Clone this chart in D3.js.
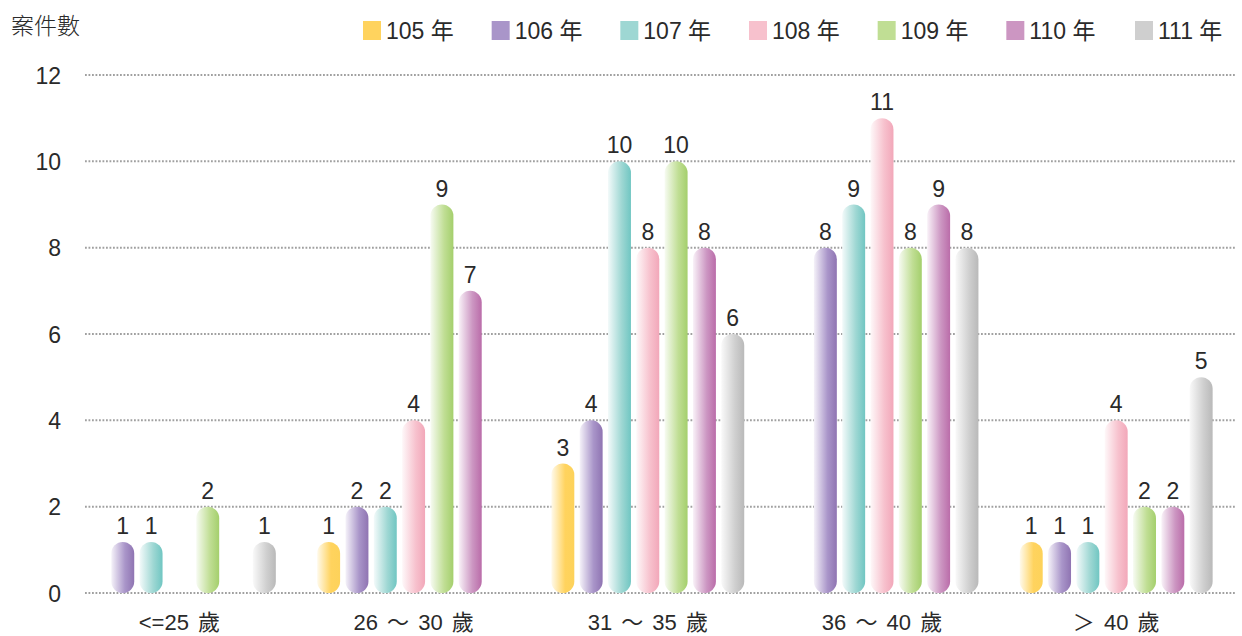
<!DOCTYPE html>
<html><head><meta charset="utf-8">
<script src="https://cdn.jsdelivr.net/npm/d3@7"></script>
<style>
html,body{margin:0;padding:0;background:#fff;}
text{font-family:"Liberation Sans","Noto Sans CJK TC",sans-serif;fill:#2a2a2a;}
</style></head>
<body><svg id="c" width="1242" height="636"></svg>
<script>
const categories = ["<=25 歲", "26 ～ 30 歲", "31 ～ 35 歲", "36 ～ 40 歲", "＞ 40 歲"];
const years = ["105 年", "106 年", "107 年", "108 年", "109 年", "110 年", "111 年"];
const y105 = [0, 1, 3, 0, 1];
const y106 = [1, 2, 4, 8, 1];
const y107 = [1, 2, 10, 9, 1];
const y108 = [0, 4, 8, 11, 4];
const y109 = [2, 9, 10, 8, 2];
const y110 = [0, 7, 8, 9, 2];
const y111 = [1, 0, 6, 8, 5];
const series = [y105, y106, y107, y108, y109, y110, y111];
const yTicks = [0, 2, 4, 6, 8, 10, 12];
const baseColors = ["#FFD35E", "#A995C9", "#9ED7D3", "#F7C1CD", "#C0DE94", "#CC96C2", "#CFCFCF"];
const darkColors = ["#FDD25A", "#8F74B2", "#70C6C2", "#F2A7B9", "#A4CF6C", "#BA6CA9", "#B9B9B9"];
const FONT = '"Liberation Sans","Noto Sans CJK TC",sans-serif';

const svg = d3.select("#c");
const defs = svg.append("defs");
baseColors.forEach((c, i) => {
  const g = defs.append("linearGradient").attr("id", "g" + i).attr("x1", "0").attr("x2", "1").attr("y1", "0").attr("y2", "0");
  g.append("stop").attr("offset", "0").attr("stop-color", d3.interpolateRgb("#ffffff", c)(0.12));
  g.append("stop").attr("offset", "0.6").attr("stop-color", c);
  g.append("stop").attr("offset", "1").attr("stop-color", darkColors[i]);
});

const y = d3.scaleLinear().domain([0, 12]).range([593, 75]);
const x0 = d3.scaleBand().domain(categories).range([62.3, 1233.3]).padding(0);
const x1 = d3.scaleBand().domain(years).range([0, x0.bandwidth()]).paddingInner(0.19).paddingOuter(0.73);

// grid
svg.append("g").selectAll("line").data(yTicks).join("line")
  .attr("x1", 85).attr("x2", 1236)
  .attr("y1", d => y(d)).attr("y2", d => y(d))
  .attr("stroke", "#a0a0a0").attr("stroke-width", 2).attr("stroke-dasharray", "1.8,1.7");

// y axis labels
const yAxis = d3.axisLeft(y).tickValues(yTicks).tickSize(0).tickPadding(0);
const ya = svg.append("g").attr("transform", "translate(61,0)").call(yAxis);
ya.select(".domain").remove();
ya.selectAll("text").attr("font-size", 23).attr("fill", "#2a2a2a").attr("dy", "0.36em")
  .style("font-family", FONT);

svg.append("text").attr("x", 11).attr("y", 34).attr("font-size", 23).text("案件數")
  .style("font-family", '"Noto Sans CJK TC",sans-serif').style("font-weight", 300);

// x axis labels
const xAxis = d3.axisBottom(x0).tickSize(0).tickPadding(0);
const xa = svg.append("g").attr("transform", "translate(0,630)").call(xAxis);
xa.select(".domain").remove();
xa.selectAll("text").attr("font-size", 22).attr("fill", "#2a2a2a").attr("dy", 0)
  .style("font-family", FONT)
  .style("word-spacing", "3px");

// bars
const minH = 51;
const groups = svg.append("g").selectAll("g").data(categories).join("g")
  .attr("transform", d => `translate(${x0(d)},0)`);
groups.each(function(cat, ci) {
  const g = d3.select(this);
  const data = years.map((yr, si) => ({yr, si, v: series[si][ci]})).filter(d => d.v > 0);
  const bw = x1.bandwidth();
  g.selectAll("rect").data(data).join("rect")
    .attr("x", d => x1(d.yr))
    .attr("y", d => Math.min(y(d.v), y(0) - minH))
    .attr("width", bw)
    .attr("height", d => y(0) - Math.min(y(d.v), y(0) - minH))
    .attr("rx", bw / 2).attr("ry", bw / 2)
    .attr("fill", d => `url(#g${d.si})`);
  g.selectAll("text.v").data(data).join("text").attr("class", "v")
    .attr("x", d => x1(d.yr) + bw / 2)
    .attr("y", d => Math.min(y(d.v), y(0) - minH) - 8)
    .attr("text-anchor", "middle").attr("font-size", 23)
    .style("font-family", FONT)
    .text(d => d.v);
});

// legend
const lx = d3.scalePoint().domain(years).range([363, 1135]);
const lg = svg.append("g").selectAll("g").data(years).join("g")
  .attr("transform", d => `translate(${lx(d)},0)`);
lg.append("rect").attr("x", 0).attr("y", 21).attr("width", 18).attr("height", 19)
  .attr("fill", (d, i) => baseColors[i]);
lg.append("text").attr("x", 23).attr("y", 39).attr("font-size", 23).text(d => d)
  .style("font-family", FONT);
</script></body></html>
